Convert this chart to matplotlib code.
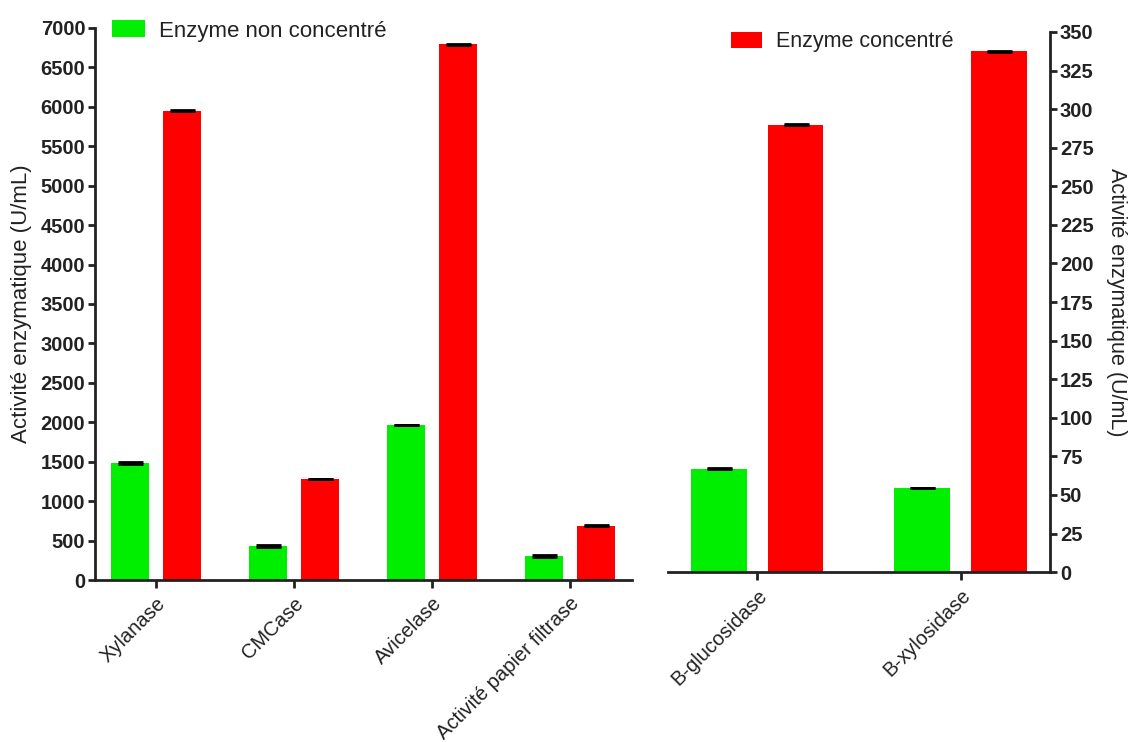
import numpy as np
import matplotlib.pyplot as plt

plt.rcParams['font.family'] = ['Liberation Sans', 'DejaVu Sans']

# data
left_cats = ["Xylanase", "CMCase", "Avicelase", "Activité papier filtrase"]
left_non = [1485, 432, 1962, 305]
left_conc = [5950, 1287, 6795, 690]
left_non_err = [8, 8, 0, 8]
left_conc_err = [8, 0, 8, 8]

right_cats = ["B-glucosidase", "B-xylosidase"]
right_non = [67, 54.5]
right_conc = [290, 337.5]
right_non_err = [0.3, 0.3]
right_conc_err = [0.3, 0.3]

GREEN = "#00ee00"
RED = "#ff0000"
INK = "#222222"

fig = plt.figure(figsize=(11.32, 7.42), dpi=100)
fig.patch.set_facecolor("white")

ax1 = fig.add_axes([0.0839, 0.2183, 0.4744, 0.744])
ax2 = fig.add_axes([0.590, 0.229, 0.3376, 0.7279])

w = 0.275
off = 0.188
ekw = dict(ecolor="black", elinewidth=1.5, capsize=9, capthick=2.0)


def style(ax):
    for s in ax.spines.values():
        s.set_linewidth(2)
        s.set_color(INK)
    ax.tick_params(axis="both", width=2, color=INK, length=5)
    ax.tick_params(axis="y", labelsize=14.5, pad=2)
    for lab in ax.get_yticklabels():
        lab.set_fontweight("bold")
        lab.set_color(INK)


# left panel
x = np.arange(len(left_cats))
ax1.bar(x - off, left_non, w, color=GREEN, label="Enzyme non concentré",
        yerr=left_non_err, error_kw=ekw)
ax1.bar(x + off, left_conc, w, color=RED, label="_nolegend_",
        yerr=left_conc_err, error_kw=ekw)
ax1.set_xlim(-0.44, len(left_cats) - 1 + 0.45)
ax1.set_ylim(0, 7000)
ax1.set_yticks(np.arange(0, 7001, 500))
ax1.set_xticks(x)
ax1.set_xticklabels(left_cats, rotation=45, ha="right", rotation_mode="anchor",
                    fontsize=14.5, color=INK)
ax1.spines[["top", "right"]].set_visible(False)
ax1.set_ylabel("Activité enzymatique (U/mL)", fontsize=16, color=INK, labelpad=6)
style(ax1)
ax1.tick_params(axis="x", length=6, pad=4)
leg1 = ax1.legend(loc="upper left", bbox_to_anchor=(-0.005, 1.05), frameon=False,
                  fontsize=16, handlelength=1.45, handleheight=0.8,
                  handletextpad=0.65)
for t in leg1.get_texts():
    t.set_color(INK)

# right panel
xr = np.arange(len(right_cats))
ax2.bar(xr - off, right_non, w, color=GREEN, yerr=right_non_err, error_kw=ekw)
ax2.bar(xr + off, right_conc, w, color=RED, label="Enzyme concentré",
        yerr=right_conc_err, error_kw=ekw)
ax2.set_xlim(-0.44, len(right_cats) - 1 + 0.44)
ax2.set_ylim(0, 350)
ax2.set_yticks(np.arange(0, 351, 25))
ax2.set_xticks(xr)
ax2.set_xticklabels(right_cats, rotation=45, ha="right", rotation_mode="anchor",
                    fontsize=14.5, color=INK)
ax2.spines[["top", "left"]].set_visible(False)
ax2.yaxis.tick_right()
ax2.yaxis.set_label_position("right")
ax2.set_ylabel("Activité enzymatique (U/mL)", fontsize=15.5, color=INK,
               rotation=-90, labelpad=24)
style(ax2)
ax2.tick_params(axis="x", length=6, pad=4)
leg2 = ax2.legend(loc="upper left", bbox_to_anchor=(0.115, 1.037), frameon=False,
                  fontsize=15.5, handlelength=1.45, handleheight=0.8,
                  handletextpad=0.65)
for t in leg2.get_texts():
    t.set_color(INK)

fig.savefig("out.png", dpi=100, facecolor="white")
